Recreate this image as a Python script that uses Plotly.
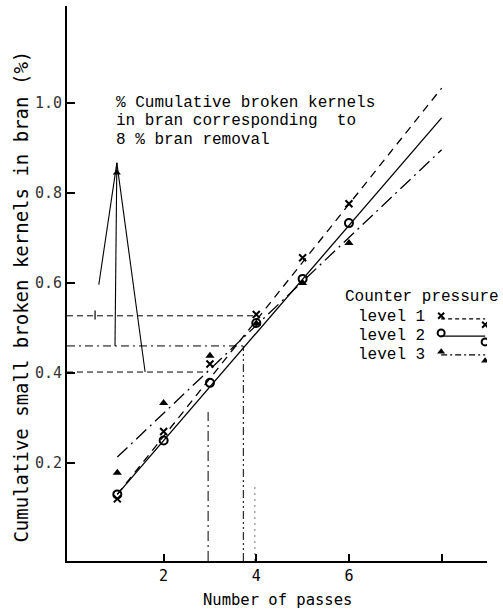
import plotly.graph_objects as go

# ---------------- data ----------------
passes = [1, 2, 3, 4, 5, 6]
level1 = [0.12, 0.27, 0.42, 0.53, 0.656, 0.776]
level2 = [0.13, 0.25, 0.378, 0.511, 0.609, 0.733]
level3 = [0.178, 0.333, 0.438, 0.51, 0.60, 0.689]

fit_x = [1, 8]
fit1 = [0.13, 1.033]
fit2 = [0.13, 0.967]
fit3 = [0.213, 0.896]

# guide lines (8 % bran removal reading)
guide_levels = [0.527, 0.46, 0.402]
guide_cross_x = [4.0, 3.72, 2.96]
vert_x = [2.96, 3.72, 3.97]
vert_top = [0.313, 0.46, 0.151]

# arrow bundle
apex = (0.99, 0.867)
arrow_feet = [(0.60, 0.596), (0.95, 0.46), (1.6, 0.402)]

x_ticks = [2, 4, 6, 8]
x_ticklabels = ["2", "4", "6", ""]
y_ticks = [0.2, 0.4, 0.6, 0.8, 1.0]
y_ticklabels = ["0.2", "0.4", "0.6", "0.8", "1.0"]

legend_labels = ["level 1", "level 2", "level 3"]

X_RANGE = [-0.086, 8.98]
Y_RANGE = [-0.018, 1.2156]

MONO = "DejaVu Sans Mono"
TYPE = "Liberation Mono"

fig = go.Figure()

# fitted lines
fig.add_trace(go.Scatter(x=fit_x, y=fit1, mode="lines",
                         line=dict(color="black", width=1.3, dash="8px,6px")))
fig.add_trace(go.Scatter(x=fit_x, y=fit2, mode="lines",
                         line=dict(color="black", width=1.3)))
fig.add_trace(go.Scatter(x=fit_x, y=fit3, mode="lines",
                         line=dict(color="black", width=1.3, dash="14px,5px,2px,5px")))

# markers
fig.add_trace(go.Scatter(x=passes, y=level1, mode="markers",
                         marker=dict(symbol="x-thin", size=7, color="black",
                                     line=dict(color="black", width=2))))
fig.add_trace(go.Scatter(x=passes, y=level2, mode="markers",
                         marker=dict(symbol="circle-open", size=8, color="black",
                                     line=dict(color="black", width=2))))
fig.add_trace(go.Scatter(x=passes, y=level3, mode="markers",
                         marker=dict(symbol="triangle-up", size=8, color="black")))

# horizontal guide lines
hdash = ["6px,4px", "8px,4px,2px,4px", "6px,4px"]
for lv, cx, d in zip(guide_levels, guide_cross_x, hdash):
    fig.add_trace(go.Scatter(x=[X_RANGE[0], cx], y=[lv, lv], mode="lines",
                             line=dict(color="black", width=1, dash=d)))
# vertical guide lines
vdash = ["10px,4px,2px,4px", "8px,3px,2px,3px,2px,3px", "2px,4px"]
vcol = ["black", "black", "#777777"]
for vx, vt, d, c in zip(vert_x, vert_top, vdash, vcol):
    fig.add_trace(go.Scatter(x=[vx, vx], y=[Y_RANGE[0], vt], mode="lines",
                             line=dict(color=c, width=1, dash=d)))

# arrow bundle
for fx, fy in arrow_feet:
    fig.add_trace(go.Scatter(x=[apex[0], fx], y=[apex[1], fy], mode="lines",
                             line=dict(color="black", width=1.1)))
fig.add_trace(go.Scatter(x=[apex[0]], y=[apex[1] - 0.022], mode="markers",
                         marker=dict(symbol="triangle-up", size=7, color="black")))
# small tick on upper guide line
fig.add_trace(go.Scatter(x=[0.52, 0.52], y=[guide_levels[0] - 0.008, guide_levels[0] + 0.012],
                         mode="lines", line=dict(color="black", width=1.2)))

# legend (custom drawn)
leg_y = [0.527, 0.489, 0.447]
leg_x0, leg_x1 = 7.99, 8.94
leg_dash = ["4px,3px", None, "6px,3px,2px,3px"]
leg_sym = [dict(symbol="x-thin", size=6, color="black", line=dict(color="black", width=2)),
           dict(symbol="circle-open", size=7, color="black", line=dict(color="black", width=2)),
           dict(symbol="triangle-up", size=7, color="black")]
for ly, ld, ls in zip(leg_y, leg_dash, leg_sym):
    fig.add_trace(go.Scatter(x=[leg_x0, leg_x1], y=[ly - 0.007, ly - 0.007], mode="lines",
                             line=dict(color="black", width=1.2, dash=ld)))
    fig.add_trace(go.Scatter(x=[leg_x0, leg_x1], y=[ly, ly - 0.02], mode="markers",
                             marker=ls))

annotations = []
ann_lines = ["% Cumulative broken kernels", "in bran corresponding  to", "8 % bran removal"]
for i, t in enumerate(ann_lines):
    annotations.append(dict(x=0.93, y=1.0 - 0.041 * i, xref="x", yref="y", text=t,
                            showarrow=False, xanchor="left", yanchor="middle",
                            font=dict(family=TYPE, size=16, color="black")))
annotations.append(dict(x=5.87, y=0.569, xref="x", yref="y", text="Counter pressure",
                        showarrow=False, xanchor="left", yanchor="middle",
                        font=dict(family=TYPE, size=16, color="black")))
for ly, lab in zip([0.524, 0.482, 0.44], legend_labels):
    annotations.append(dict(x=6.16, y=ly, xref="x", yref="y", text=lab,
                            showarrow=False, xanchor="left", yanchor="middle",
                            font=dict(family=TYPE, size=16, color="black")))
annotations.append(dict(x=0.5, y=-0.0703, xref="paper", yref="paper", text="Number of passes",
                        showarrow=False, xanchor="center", yanchor="middle",
                        font=dict(family=MONO, size=15.5, color="black")))
annotations.append(dict(x=-0.11, y=0.476, xref="paper", yref="paper",
                        text="Cumulative small broken kernels in bran (%)",
                        textangle=-90, showarrow=False, xanchor="center", yanchor="middle",
                        font=dict(family=MONO, size=19, color="black")))

fig.update_layout(
    width=503, height=616,
    margin=dict(l=67, r=16, t=6, b=55),
    plot_bgcolor="white", paper_bgcolor="white",
    showlegend=False,
    annotations=annotations,
)
fig.update_xaxes(range=X_RANGE, showline=True, linecolor="black", linewidth=2,
                 ticks="inside", ticklen=7, tickwidth=1.5, tickcolor="black",
                 tickvals=x_ticks, ticktext=x_ticklabels, showgrid=False, zeroline=False,
                 tickfont=dict(family=MONO, size=15, color="black"))
fig.update_yaxes(range=Y_RANGE, showline=True, linecolor="black", linewidth=2,
                 ticks="inside", ticklen=8, tickwidth=1.5, tickcolor="black",
                 tickvals=y_ticks, ticktext=y_ticklabels, showgrid=False, zeroline=False,
                 tickfont=dict(family=MONO, size=15, color="#333333"))

fig.write_html("out.html")
